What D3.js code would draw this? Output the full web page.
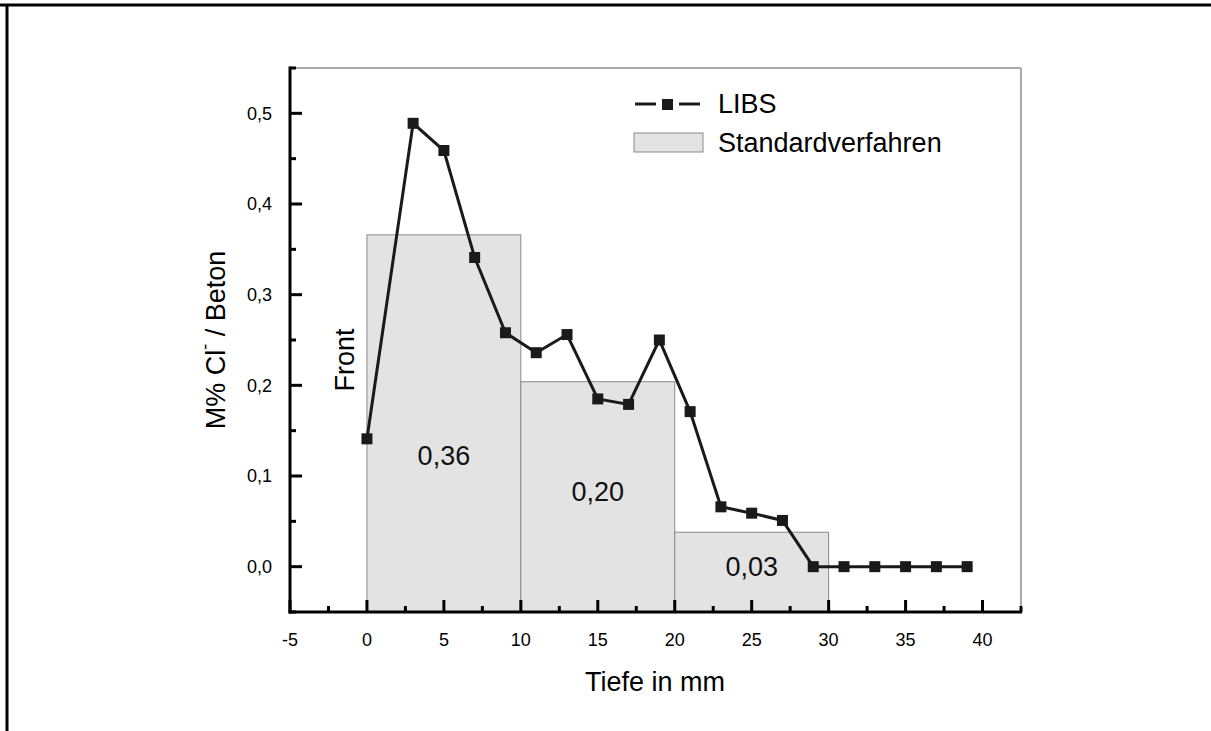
<!DOCTYPE html>
<html lang="de">
<head>
<meta charset="utf-8">
<title>LIBS vs Standardverfahren</title>
<script src="https://d3js.org/d3.v7.min.js"></script>
<style>
  body { margin: 0; background: #fff; }
  svg { display: block; font-family: "Liberation Sans", Arial, sans-serif; }
</style>
</head>
<body>
<script>
// LIBS measurement (depth in mm, M% Cl-)
const libsDepth = [0, 3, 5, 7, 9, 11, 13, 15, 17, 19, 21, 23, 25, 27, 29, 31, 33, 35, 37, 39];
const libsValue = [0.141, 0.489, 0.459, 0.341, 0.258, 0.236, 0.256, 0.185, 0.179, 0.250,
                   0.171, 0.066, 0.059, 0.051, 0.0, 0.0, 0.0, 0.0, 0.0, 0.0];

// standard method: depth ranges and values
const stdFrom = [0, 10, 20];
const stdTo = [10, 20, 30];
const stdValue = [0.366, 0.204, 0.038];
const stdLabel = ["0,36", "0,20", "0,03"];
const stdLabelY = [0.123, 0.083, 0.0];

const xTicks = [-5, 0, 5, 10, 15, 20, 25, 30, 35, 40];
const yTicks = [0.0, 0.1, 0.2, 0.3, 0.4, 0.5];

const width = 1211, height = 731;
const pLeft = 290, pRight = 1021, pTop = 68, pBottom = 612;

const svg = d3.select("body").append("svg")
  .attr("width", width)
  .attr("height", height);

// outer frame (only top and left visible)
svg.append("line").attr("x1", 0).attr("x2", width).attr("y1", 5).attr("y2", 5)
  .attr("stroke", "#000").attr("stroke-width", 3);
svg.append("line").attr("x1", 7).attr("x2", 7).attr("y1", 4).attr("y2", height)
  .attr("stroke", "#000").attr("stroke-width", 3);

const x = d3.scaleLinear().domain([-5, 42.5]).range([pLeft, pRight]);
const y = d3.scaleLinear().domain([-0.05, 0.55]).range([pBottom, pTop]);

// plot box top and right
svg.append("line").attr("x1", pLeft).attr("x2", pRight).attr("y1", pTop).attr("y2", pTop)
  .attr("stroke", "#555").attr("stroke-width", 1);
svg.append("line").attr("x1", pRight).attr("x2", pRight).attr("y1", pTop).attr("y2", pBottom)
  .attr("stroke", "#aaa").attr("stroke-width", 2);

// bars
const bars = stdFrom.map((d, i) => ({from: d, to: stdTo[i], v: stdValue[i], label: stdLabel[i], ly: stdLabelY[i]}));
svg.selectAll("rect.bar")
  .data(bars)
  .enter()
  .append("rect")
  .attr("class", "bar")
  .attr("x", d => x(d.from))
  .attr("y", d => y(d.v))
  .attr("width", d => x(d.to) - x(d.from))
  .attr("height", d => pBottom - y(d.v))
  .attr("fill", "#e3e3e3")
  .attr("stroke", "#8a8a8a")
  .attr("stroke-width", 1);

svg.selectAll("text.barlabel")
  .data(bars)
  .enter()
  .append("text")
  .attr("class", "barlabel")
  .attr("x", d => x((d.from + d.to) / 2))
  .attr("y", d => y(d.ly))
  .attr("dy", "0.35em")
  .attr("text-anchor", "middle")
  .attr("font-size", 27)
  .attr("fill", "#111")
  .text(d => d.label);

// LIBS line
const pts = libsDepth.map((d, i) => [d, libsValue[i]]);
svg.append("path")
  .datum(pts)
  .attr("fill", "none")
  .attr("stroke", "#1a1a1a")
  .attr("stroke-width", 3)
  .attr("d", d3.line().x(d => x(d[0])).y(d => y(d[1])));

svg.selectAll("rect.pt")
  .data(pts)
  .enter()
  .append("rect")
  .attr("class", "pt")
  .attr("x", d => x(d[0]) - 5.5)
  .attr("y", d => y(d[1]) - 5.5)
  .attr("width", 11)
  .attr("height", 11)
  .attr("fill", "#1a1a1a");

// axes (ticks point inward)
const gx = svg.append("g").attr("transform", `translate(0,${pBottom})`);
gx.selectAll("line.maj").data(xTicks).enter().append("line")
  .attr("x1", d => x(d)).attr("x2", d => x(d)).attr("y1", 0).attr("y2", -12)
  .attr("stroke", "#000").attr("stroke-width", 3);
gx.selectAll("line.min").data(xTicks.map(d => d + 2.5)).enter().append("line")
  .attr("x1", d => x(d)).attr("x2", d => x(d)).attr("y1", 0).attr("y2", -6)
  .attr("stroke", "#000").attr("stroke-width", 3);
gx.selectAll("text").data(xTicks).enter().append("text")
  .attr("x", d => x(d)).attr("y", 34)
  .attr("text-anchor", "middle").attr("font-size", 18).attr("fill", "#000")
  .text(d => d);
gx.append("line").attr("x1", pLeft - 1.5).attr("x2", pRight + 1).attr("y1", 0).attr("y2", 0)
  .attr("stroke", "#000").attr("stroke-width", 3);

const gy = svg.append("g").attr("transform", `translate(${pLeft},0)`);
const yFmt = d => d3.format(".1f")(d).replace(".", ",");
gy.selectAll("line.maj").data(yTicks).enter().append("line")
  .attr("x1", 0).attr("x2", 12).attr("y1", d => y(d)).attr("y2", d => y(d))
  .attr("stroke", "#000").attr("stroke-width", 3);
gy.selectAll("line.min").data(yTicks.map(d => d + 0.05).concat([-0.05])).enter().append("line")
  .attr("x1", 0).attr("x2", 6).attr("y1", d => y(d)).attr("y2", d => y(d))
  .attr("stroke", "#000").attr("stroke-width", 3);
gy.selectAll("text").data(yTicks).enter().append("text")
  .attr("x", -18).attr("y", d => y(d)).attr("dy", "0.35em")
  .attr("text-anchor", "end").attr("font-size", 18).attr("fill", "#000")
  .text(yFmt);
gy.append("line").attr("x1", 0).attr("x2", 0).attr("y1", pTop - 1.5).attr("y2", pBottom + 1.5)
  .attr("stroke", "#000").attr("stroke-width", 3);

// axis titles
svg.append("text")
  .attr("x", 655).attr("y", 691)
  .attr("text-anchor", "middle").attr("font-size", 27).attr("fill", "#000")
  .text("Tiefe in mm");

const yt = svg.append("text")
  .attr("transform", `translate(225,340) rotate(-90)`)
  .attr("text-anchor", "middle").attr("font-size", 27).attr("fill", "#000");
yt.append("tspan").text("M% Cl");
yt.append("tspan").attr("dy", -14).attr("font-size", 18).text("-");
yt.append("tspan").attr("dy", 14).text("  / Beton");

// "Front" annotation
svg.append("text")
  .attr("transform", `translate(${x(-1.5) + 10},${y(0.228)}) rotate(-90)`)
  .attr("text-anchor", "middle").attr("font-size", 27).attr("fill", "#000")
  .text("Front");

// legend
const lg = svg.append("g");
lg.append("line").attr("x1", 635).attr("x2", 656).attr("y1", 104).attr("y2", 104)
  .attr("stroke", "#1a1a1a").attr("stroke-width", 3);
lg.append("line").attr("x1", 679).attr("x2", 700).attr("y1", 104).attr("y2", 104)
  .attr("stroke", "#1a1a1a").attr("stroke-width", 3);
lg.append("rect").attr("x", 662).attr("y", 99).attr("width", 11).attr("height", 11)
  .attr("fill", "#1a1a1a");
lg.append("text").attr("x", 718).attr("y", 104).attr("dy", "0.35em")
  .attr("font-size", 27).attr("fill", "#000").text("LIBS");
lg.append("rect").attr("x", 634).attr("y", 133).attr("width", 69).attr("height", 19)
  .attr("fill", "#e3e3e3").attr("stroke", "#8a8a8a");
lg.append("text").attr("x", 718).attr("y", 143).attr("dy", "0.35em")
  .attr("font-size", 27).attr("fill", "#000").text("Standardverfahren");
</script>
</body>
</html>
